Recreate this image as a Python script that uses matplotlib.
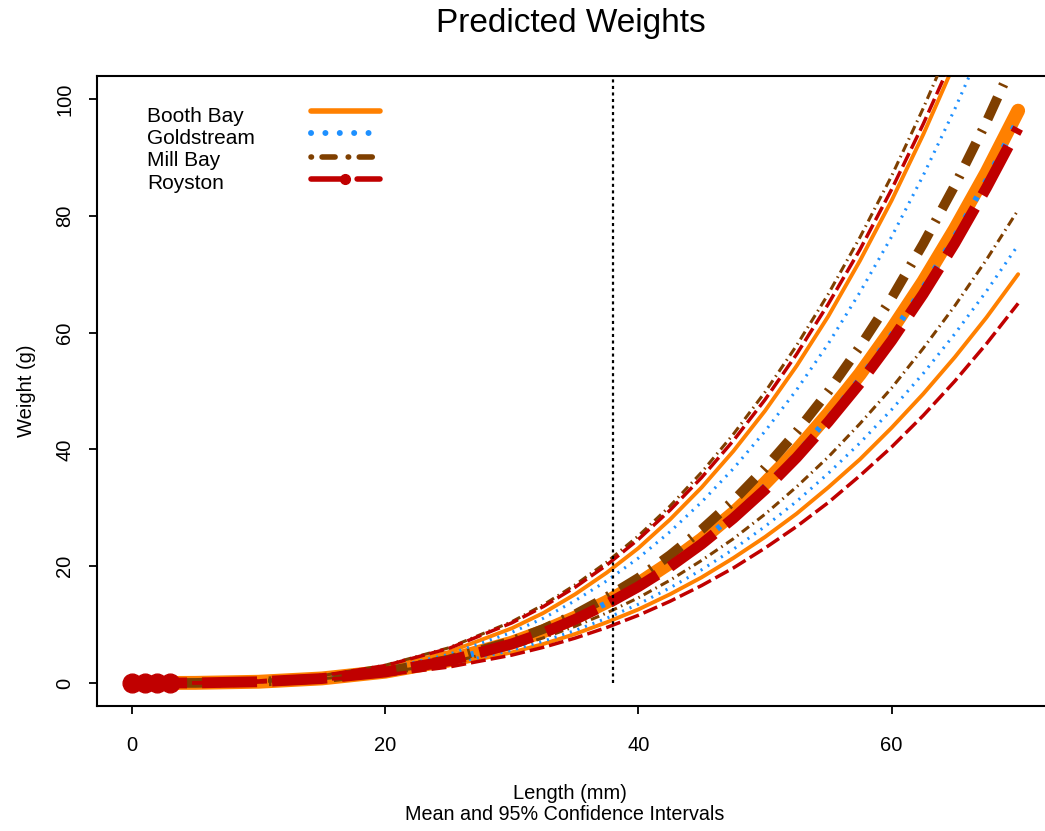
import matplotlib
matplotlib.use("Agg")
import matplotlib.pyplot as plt
from matplotlib.lines import Line2D

plt.rcParams['font.family'] = ['Liberation Sans', 'DejaVu Sans']
plt.rcParams['lines.scale_dashes'] = False

# Fish length grid (mm)
length_mm = [0, 5, 10, 15, 20, 25, 30, 32.5, 35, 37.5, 40, 42.5, 45, 47.5, 50,
             52.5, 55, 57.5, 60, 62.5, 65, 67.5, 70]

# Predicted weight (g): mean with lower / upper 95% limits, per site
booth_mean = [0, 0.03, 0.22, 0.79, 1.94, 3.91, 6.91, 8.87, 11.2, 13.9, 17.0, 20.6, 24.6, 29.1,
              34.2, 39.8, 46.1, 52.9, 60.5, 68.7, 77.7, 87.4, 98.0]
booth_lower = [0, 0.02, 0.18, 0.63, 1.51, 3.00, 5.24, 6.69, 8.40, 10.4, 12.6, 15.2, 18.1, 21.4,
               25.0, 29.0, 33.5, 38.3, 43.7, 49.5, 55.8, 62.6, 70.0]
booth_upper = [0, 0.03, 0.30, 1.06, 2.62, 5.29, 9.37, 12.0, 15.2, 18.9, 23.1, 28.0, 33.5, 39.7,
               46.6, 54.3, 62.8, 72.3, 82.6, 93.9, 106.2, 119.5, 134.0]

gold_mean = [0, 0.02, 0.22, 0.78, 1.91, 3.85, 6.80, 8.74, 11.0, 13.7, 16.7, 20.2, 24.2, 28.7,
             33.7, 39.2, 45.4, 52.1, 59.6, 67.7, 76.5, 86.1, 96.5]
gold_lower = [0, 0.02, 0.19, 0.67, 1.62, 3.21, 5.61, 7.17, 9.0, 11.1, 13.5, 16.3, 19.4, 22.9,
              26.8, 31.1, 35.9, 41.1, 46.8, 53.0, 59.8, 67.1, 75.0]
gold_upper = [0, 0.03, 0.28, 0.98, 2.43, 4.89, 8.67, 11.1, 14.1, 17.5, 21.4, 25.9, 31.0, 36.7,
              43.1, 50.2, 58.1, 66.9, 76.4, 86.9, 98.3, 110.6, 124.0]

mill_mean = [0, 0.02, 0.21, 0.78, 1.96, 4.00, 7.18, 9.27, 11.75, 14.7, 18.0, 21.9, 26.3, 31.2,
             36.8, 43.0, 49.9, 57.6, 65.9, 75.2, 85.2, 96.1, 108.0]
mill_lower = [0, 0.03, 0.21, 0.73, 1.75, 3.47, 6.06, 7.74, 9.71, 12.0, 14.6, 17.6, 21.0, 24.7,
              28.9, 33.6, 38.7, 44.4, 50.5, 57.3, 64.6, 72.5, 81.0]
mill_upper = [0, 0.04, 0.37, 1.27, 3.05, 6.02, 10.5, 13.4, 16.8, 20.7, 25.2, 30.3, 36.1, 42.6,
              49.8, 57.8, 66.6, 76.3, 86.8, 98.4, 110.9, 124.4, 139.0]

roy_mean = [0, 0.02, 0.22, 0.77, 1.88, 3.79, 6.70, 8.60, 10.9, 13.5, 16.5, 19.9, 23.8, 28.2,
            33.1, 38.6, 44.7, 51.3, 58.6, 66.6, 75.3, 84.8, 95.0]
roy_lower = [0, 0.02, 0.16, 0.57, 1.37, 2.73, 4.78, 6.12, 7.69, 9.51, 11.6, 14.0, 16.7, 19.7,
             23.1, 26.8, 30.9, 35.5, 40.4, 45.8, 51.7, 58.1, 65.0]
roy_upper = [0, 0.04, 0.36, 1.25, 2.99, 5.90, 10.3, 13.1, 16.4, 20.2, 24.6, 29.6, 35.2, 41.5,
             48.5, 56.3, 64.9, 74.2, 84.5, 95.7, 107.8, 120.9, 135.0]

# Royston point symbols at the smallest lengths
roy_point_len = [0, 1, 2, 3]
roy_point_wt = [0, 0, 0, 0]

sites = ["Booth Bay", "Goldstream", "Mill Bay", "Royston"]
site_colors = ["#FF8000", "#1E90FF", "#7F3F00", "#C00000"]
ref_length = 38

x_ticks = [0, 20, 40, 60]
y_ticks = [0, 20, 40, 60, 80, 100]

W, H = 1045, 831


def fx(px):
    return px / W


def fy(py):
    return 1 - py / H


fig = plt.figure(figsize=(W / 100, H / 100), dpi=100)
ax = fig.add_axes([fx(96.6), fy(706.4), fx(1053.6) - fx(96.6), fy(75.6) - fy(706.4)])
ax.set_xlim(-2.8, 72.8)
ax.set_ylim(-4, 104)

# line styles: (mean style, interval style) per site
styles = {
    "Booth Bay": (dict(lw=10.0, ls='-', solid_capstyle='round'),
                  dict(lw=2.8, ls='-', solid_capstyle='round')),
    "Goldstream": (dict(lw=4.3, dashes=(3.0, 11.4), dash_capstyle='butt'),
                   dict(lw=2.2, dashes=(1.5, 4.3), dash_capstyle='butt')),
    "Mill Bay": (dict(lw=7.0, dashes=(17.3, 8.6, 1.8, 8.6), dash_capstyle='butt'),
                 dict(lw=2.2, dashes=(6.5, 3.2, 1.1, 3.2), dash_capstyle='butt')),
    "Royston": (dict(lw=7.8, dashes=(39.6, 10.8), dash_capstyle='butt'),
                dict(lw=2.5, dashes=(10.8, 3.6), dash_capstyle='butt')),
}

series = {
    "Booth Bay": (booth_mean, booth_lower, booth_upper),
    "Goldstream": (gold_mean, gold_lower, gold_upper),
    "Mill Bay": (mill_mean, mill_lower, mill_upper),
    "Royston": (roy_mean, roy_lower, roy_upper),
}

z = 2
for site, col in zip(sites, site_colors):
    mean, lower, upper = series[site]
    mean_style, ci_style = styles[site]
    ax.plot(length_mm, lower, color=col, zorder=z, **ci_style)
    ax.plot(length_mm, upper, color=col, zorder=z + 0.1, **ci_style)
    ax.plot(length_mm, mean, color=col, zorder=z + 0.2, **mean_style)
    z += 1

ax.plot(roy_point_len, roy_point_wt, ls='none', marker='o', ms=13.5,
        color=site_colors[3], mec=site_colors[3], zorder=z)

# reference length
ax.plot([ref_length, ref_length], [0, 110], color='black', lw=1.6,
        dashes=(2.2, 2.5), dash_capstyle='butt', zorder=z + 1)

# axes frame and ticks
for s in ['left', 'bottom', 'top', 'right']:
    ax.spines[s].set_linewidth(1.5)
ax.set_xticks(x_ticks)
ax.set_yticks(y_ticks)
ax.tick_params(axis='both', direction='out', length=6, width=1.3, labelsize=14.5)
ax.tick_params(axis='x', pad=15)
ax.tick_params(axis='y', pad=10)
for lab in ax.get_yticklabels():
    lab.set_rotation(90)
    lab.set_va('center')
    lab.set_ha('right')

# titles and axis labels
fig.text(fx(571), fy(32), "Predicted Weights", fontsize=24, ha='center', va='baseline')
fig.text(fx(570), fy(799), "Length (mm)", fontsize=14.5, ha='center', va='baseline')
fig.text(fx(565), fy(820), "Mean and 95% Confidence Intervals", fontsize=14.2,
         ha='center', va='baseline')
fig.text(fx(26), fy(391), "Weight (g)", fontsize=14.5, ha='center', va='center',
         rotation=90)

# key
key_base = [121.7, 144.0, 166.4, 188.6]
key_line_y = [110.7, 132.7, 156.7, 179.0]
key_styles = [
    dict(lw=4.0, ls='-', solid_capstyle='round'),
    dict(lw=4.3, dashes=(0.05, 10.3), dash_capstyle='round'),
    dict(lw=4.0, dashes=(0.36, 7.6, 9.4, 9.4), dash_capstyle='round'),
    dict(lw=4.0, dashes=(23.8, 9.4), dash_capstyle='round'),
]
for site, col, yb, yl, st in zip(sites, site_colors, key_base, key_line_y, key_styles):
    fig.text(fx(147), fy(yb), site, fontsize=15, ha='left', va='baseline')
    fig.add_artist(Line2D([fx(311), fx(380)], [fy(yl), fy(yl)], color=col,
                          transform=fig.transFigure, **st))
fig.add_artist(Line2D([fx(345)], [fy(key_line_y[3])], ls='none', marker='o', ms=7,
                      color=site_colors[3], transform=fig.transFigure))

fig.savefig("out.png", dpi=100)
